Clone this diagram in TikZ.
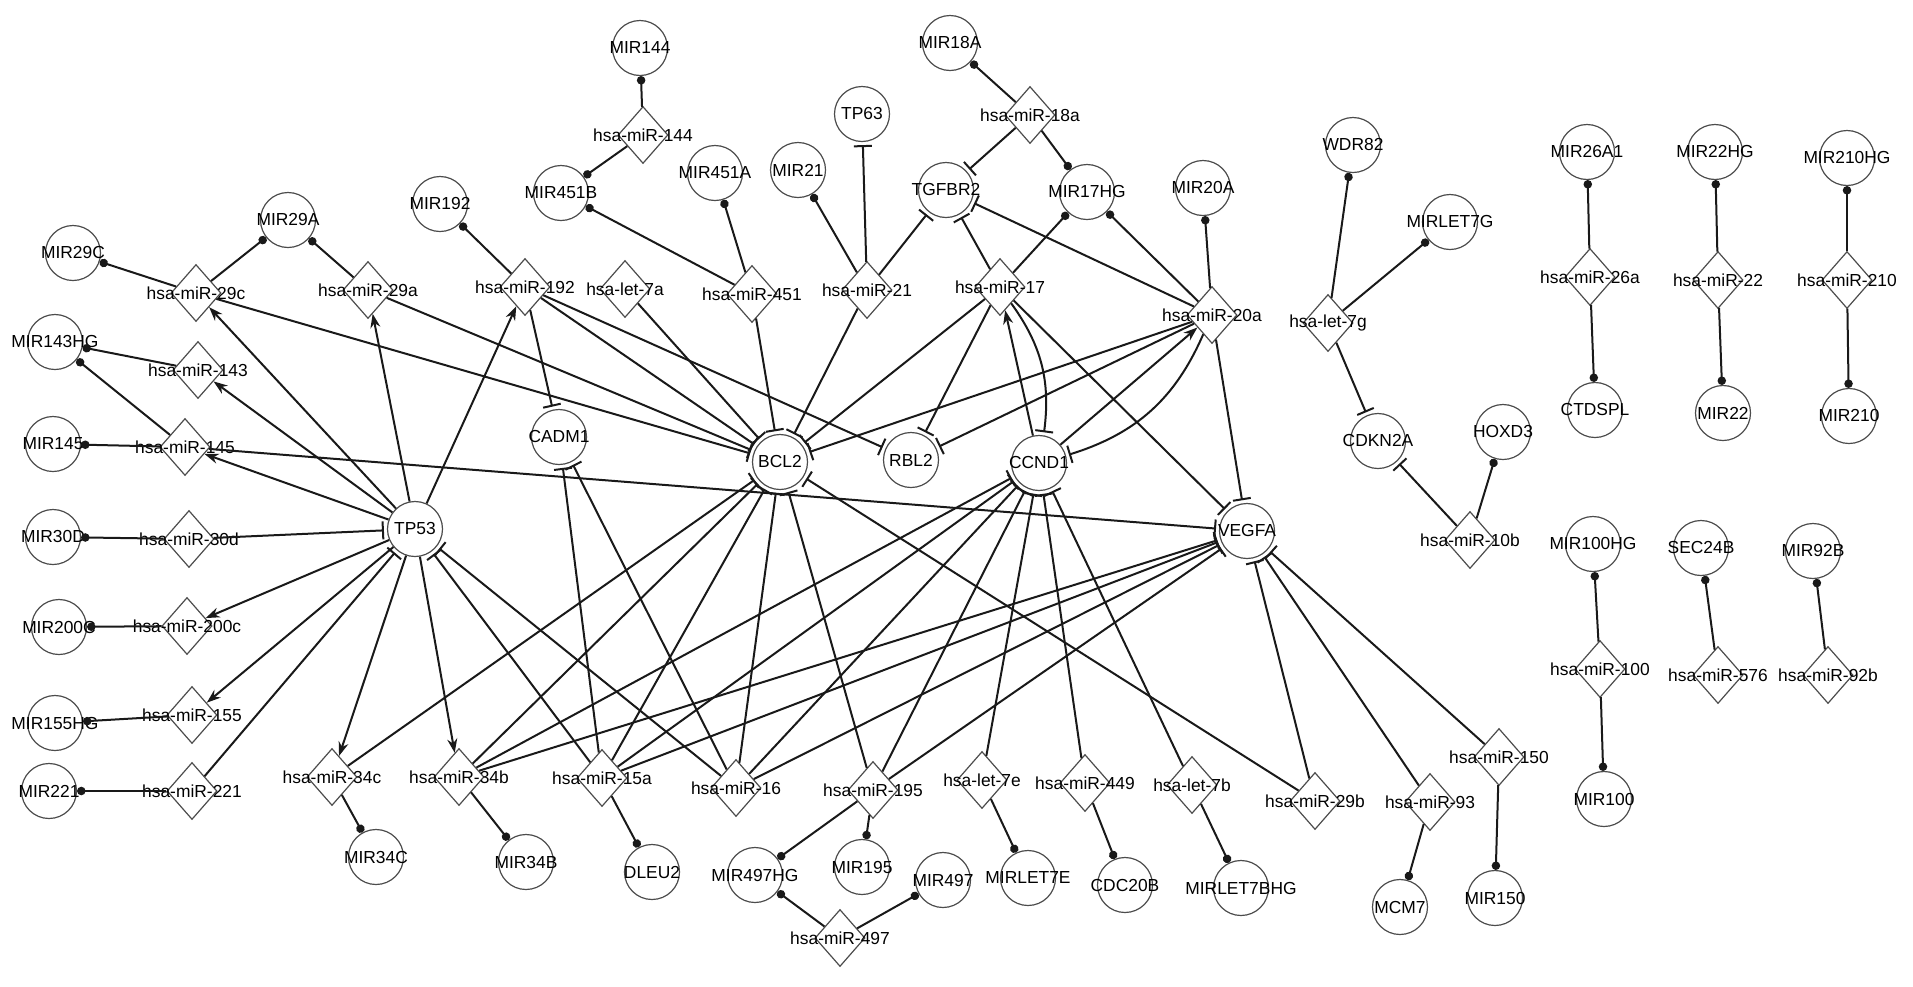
\documentclass[tikz,border=0pt]{standalone}
\usepackage{fontspec}
\setmainfont{Liberation Sans}
\usetikzlibrary{shapes.geometric,arrows.meta,bending}
\begin{document}
\begin{tikzpicture}[x=0.5pt,y=-0.5pt,
 gene/.style={circle,draw=black!70,line width=0.6pt,minimum size=27.5pt,inner sep=0pt},
 mir/.style={diamond,draw=black!70,line width=0.6pt,minimum width=25pt,minimum height=28.5pt,inner sep=0pt},
 lbl/.style={font=\fontsize{8.7}{10}\selectfont,inner sep=0pt},
 edge/.style={line width=1pt,black!90},
 dotE/.style={edge,-{Circle[length=4.2pt]}},
 inh/.style={edge,-{Bar[width=9pt,line width=1pt]},shorten >=1.5pt},
 act/.style={edge,-{Stealth[length=7pt,width=5pt]}},
]
\useasboundingbox (0,0) rectangle (1913,986);
\newcommand{\G}[4]{\node[gene,label={[lbl]center:#4}] (#1) at (#2,#3) {};}
\newcommand{\M}[4]{\node[mir,label={[lbl]center:#4}] (#1) at (#2,#3) {};}
% genes
\G{MIR29C}{73}{253}{MIR29C}
\G{MIR29A}{288}{220}{MIR29A}
\G{MIR192}{440}{204}{MIR192}
\G{MIR144}{640}{48}{MIR144}
\G{MIR451B}{561}{193}{MIR451B}
\G{MIR451A}{715}{173}{MIR451A}
\G{MIR21}{798}{170}{MIR21}
\G{TP63}{862}{114}{TP63}
\G{TGFBR2}{946}{190}{TGFBR2}
\G{MIR18A}{950}{43}{MIR18A}
\G{MIR17HG}{1087}{192}{MIR17HG}
\G{MIR20A}{1203}{188}{MIR20A}
\G{WDR82}{1353}{145}{WDR82}
\G{MIRLET7G}{1450}{222}{MIRLET7G}
\G{MIR26A1}{1587}{152}{MIR26A1}
\G{MIR22HG}{1715}{152}{MIR22HG}
\G{MIR210HG}{1847}{158}{MIR210HG}
\G{CTDSPL}{1595}{410}{CTDSPL}
\G{MIR22}{1723}{413}{MIR22}
\G{MIR210}{1849}{416}{MIR210}
\G{HOXD3}{1503}{432}{HOXD3}
\G{CDKN2A}{1378}{441}{CDKN2A}
\G{MIR100HG}{1593}{544}{MIR100HG}
\G{SEC24B}{1701}{548}{SEC24B}
\G{MIR92B}{1813}{551}{MIR92B}
\G{MIR100}{1604}{799}{MIR100}
\G{MIR150}{1495}{898}{MIR150}
\G{MCM7}{1400}{907}{MCM7}
\G{MIRLET7BHG}{1241}{888}{MIRLET7BHG}
\G{CDC20B}{1125}{885}{CDC20B}
\G{MIRLET7E}{1028}{878}{MIRLET7E}
\G{MIR497}{943}{880}{MIR497}
\G{MIR195}{862}{867}{MIR195}
\G{MIR497HG}{755}{875}{MIR497HG}
\G{DLEU2}{652}{872}{DLEU2}
\G{MIR34B}{526}{862}{MIR34B}
\G{MIR34C}{376}{857}{MIR34C}
\G{MIR221}{49}{791}{MIR221}
\G{MIR155HG}{55}{723}{MIR155HG}
\G{MIR200C}{59}{627}{MIR200C}
\G{MIR30D}{53}{537}{MIR30D}
\G{MIR145}{53}{444}{MIR145}
\G{MIR143HG}{55}{342}{MIR143HG}
\G{TP53}{415}{529}{TP53}
\G{CADM1}{559}{437}{CADM1}
\G{BCL2}{780}{462}{BCL2}
\G{RBL2}{911}{460}{RBL2}
\G{CCND1}{1039}{463}{CCND1}
\G{VEGFA}{1247}{531}{VEGFA}
% miRNAs
\M{m29c}{196}{293}{hsa-miR-29c}
\M{m29a}{368}{290}{hsa-miR-29a}
\M{m192}{525}{287}{hsa-miR-192}
\M{let7a}{625}{289}{hsa-let-7a}
\M{m144}{643}{135}{hsa-miR-144}
\M{m451}{752}{294}{hsa-miR-451}
\M{m21}{867}{290}{hsa-miR-21}
\M{m18a}{1030}{115}{hsa-miR-18a}
\M{m17}{1000}{287}{hsa-miR-17}
\M{m20a}{1212}{315}{hsa-miR-20a}
\M{let7g}{1328}{323}{hsa-let-7g}
\M{m26a}{1590}{277}{hsa-miR-26a}
\M{m22}{1718}{280}{hsa-miR-22}
\M{m210}{1847}{280}{hsa-miR-210}
\M{m10b}{1470}{540}{hsa-miR-10b}
\M{m100}{1600}{669}{hsa-miR-100}
\M{m576}{1718}{675}{hsa-miR-576}
\M{m92b}{1828}{675}{hsa-miR-92b}
\M{m150}{1499}{757}{hsa-miR-150}
\M{m93}{1430}{802}{hsa-miR-93}
\M{m29b}{1315}{801}{hsa-miR-29b}
\M{let7b}{1192}{785}{hsa-let-7b}
\M{m449}{1085}{783}{hsa-miR-449}
\M{let7e}{982}{780}{hsa-let-7e}
\M{m195}{873}{790}{hsa-miR-195}
\M{m497}{840}{938}{hsa-miR-497}
\M{m16}{736}{788}{hsa-miR-16}
\M{m15a}{602}{778}{hsa-miR-15a}
\M{m34b}{459}{777}{hsa-miR-34b}
\M{m34c}{332}{777}{hsa-miR-34c}
\M{m221}{192}{791}{hsa-miR-221}
\M{m155}{192}{715}{hsa-miR-155}
\M{m200c}{187}{626}{hsa-miR-200c}
\M{m30d}{189}{539}{hsa-miR-30d}
\M{m145}{185}{447}{hsa-miR-145}
\M{m143}{198}{370}{hsa-miR-143}
% host-gene edges (dot)
\foreach \a/\b in {m29c/MIR29C,m29c/MIR29A,m29a/MIR29A,m192/MIR192,m144/MIR144,m144/MIR451B,m451/MIR451B,m451/MIR451A,m21/MIR21,m18a/MIR18A,m18a/MIR17HG,m17/MIR17HG,m20a/MIR17HG,m20a/MIR20A,let7g/WDR82,let7g/MIRLET7G,m26a/MIR26A1,m26a/CTDSPL,m22/MIR22HG,m22/MIR22,m210/MIR210HG,m210/MIR210,m10b/HOXD3,m100/MIR100HG,m100/MIR100,m576/SEC24B,m92b/MIR92B,m150/MIR150,m93/MCM7,let7b/MIRLET7BHG,m449/CDC20B,let7e/MIRLET7E,m195/MIR195,m195/MIR497HG,m497/MIR497HG,m497/MIR497,m15a/DLEU2,m34b/MIR34B,m34c/MIR34C,m221/MIR221,m155/MIR155HG,m200c/MIR200C,m30d/MIR30D,m145/MIR145,m145/MIR143HG,m143/MIR143HG}
  \draw[dotE] (\a) -- (\b);
% activation
\foreach \a/\b in {TP53/m29c,TP53/m29a,TP53/m192,TP53/m143,TP53/m145,TP53/m200c,TP53/m155,TP53/m34c,TP53/m34b,CCND1/m17,CCND1/m20a}
  \draw[act] (\a) -- (\b);
% inhibition
\foreach \a/\b in {m30d/TP53,m221/TP53,m15a/TP53,m16/TP53,
 m29c/BCL2,m29a/BCL2,m192/BCL2,let7a/BCL2,m451/BCL2,m21/BCL2,m17/BCL2,m20a/BCL2,m34c/BCL2,m34b/BCL2,m15a/BCL2,m16/BCL2,m195/BCL2,m29b/BCL2,
 m192/CADM1,m15a/CADM1,m16/CADM1,m192/RBL2,m17/RBL2,m20a/RBL2,
 m21/TP63,m21/TGFBR2,m18a/TGFBR2,m17/TGFBR2,m20a/TGFBR2,
 m34b/CCND1,m15a/CCND1,m16/CCND1,m195/CCND1,let7e/CCND1,m449/CCND1,let7b/CCND1,
 m145/VEGFA,m17/VEGFA,m20a/VEGFA,m34b/VEGFA,m15a/VEGFA,m16/VEGFA,m195/VEGFA,m29b/VEGFA,m93/VEGFA,m150/VEGFA,
 let7g/CDKN2A,m10b/CDKN2A}
  \draw[inh] (\a) -- (\b);
\draw[inh] (m17) to[bend left=22] (CCND1);
\draw[inh] (m20a) to[bend left=25] (CCND1);
\end{tikzpicture}
\end{document}
